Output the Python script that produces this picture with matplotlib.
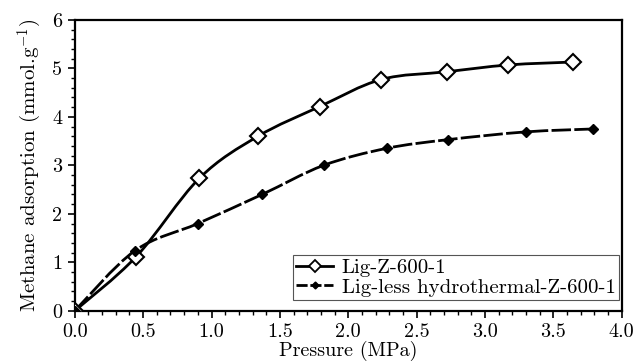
import numpy as np
import matplotlib.pyplot as plt
from matplotlib.path import Path
from matplotlib.patches import PathPatch
from matplotlib.lines import Line2D
from matplotlib.ticker import MultipleLocator

plt.rcParams['font.family'] = ['cmr10']
plt.rcParams['mathtext.fontset'] = 'cm'
plt.rcParams['axes.formatter.use_mathtext'] = True

# Lig-Z-600-1
p_lig = [0.0, 0.45, 0.91, 1.34, 1.79, 2.24, 2.72, 3.17, 3.64]
q_lig = [0.0, 1.12, 2.73, 3.60, 4.21, 4.77, 4.93, 5.07, 5.13]
# Lig-less hydrothermal-Z-600-1
p_less = [0.0, 0.44, 0.90, 1.37, 1.82, 2.28, 2.73, 3.30, 3.79]
q_less = [0.0, 1.24, 1.80, 2.40, 3.00, 3.35, 3.53, 3.69, 3.75]

labels = ['Lig-Z-600-1', 'Lig-less hydrothermal-Z-600-1']


def smooth_path(x, y):
    # Excel-like smoothed line: cubic Bezier through points (Catmull-Rom)
    x = np.asarray(x, float)
    y = np.asarray(y, float)
    n = len(x)
    verts = [(x[0], y[0])]
    codes = [Path.MOVETO]
    for i in range(n - 1):
        i0 = max(i - 1, 0)
        i3 = min(i + 2, n - 1)
        c1 = (x[i] + (x[i + 1] - x[i0]) / 6, y[i] + (y[i + 1] - y[i0]) / 6)
        c2 = (x[i + 1] - (x[i3] - x[i]) / 6, y[i + 1] - (y[i3] - y[i]) / 6)
        verts += [c1, c2, (x[i + 1], y[i + 1])]
        codes += [Path.CURVE4] * 3
    return Path(verts, codes)


fig = plt.figure(figsize=(6.39, 3.61), dpi=100)
ax = fig.add_axes([0.117, 0.139, 0.856, 0.806])

ax.add_patch(PathPatch(smooth_path(p_lig, q_lig), fill=False, lw=2.0,
                       color='black', zorder=2))
ax.add_patch(PathPatch(smooth_path(p_less, q_less), fill=False, lw=2.0,
                       color='black', linestyle=(0, (7, 1.2)), zorder=2))
ax.plot(p_lig, q_lig, linestyle='none', marker='D', ms=8, mfc='white',
        mec='black', mew=1.5, zorder=3)
ax.plot(p_less, q_less, linestyle='none', marker='D', ms=5.5, mfc='black',
        mec='black', zorder=3)

handles = [
    Line2D([], [], color='black', lw=2.0, marker='D', ms=6, mfc='white',
           mec='black', mew=1.3),
    Line2D([], [], color='black', lw=2.0, linestyle=(0, (4, 1.0)),
           marker='D', ms=3.5, mfc='black', mec='black'),
]
leg = ax.legend(handles, labels, loc='lower right',
                bbox_to_anchor=(0.9945, 0.038), fontsize=15,
                fancybox=False, framealpha=1, edgecolor='#555555',
                handlelength=1.8, borderaxespad=0, labelspacing=0.05,
                borderpad=0.15, handletextpad=0.4)
leg.get_frame().set_linewidth(0.8)

ax.set_xlim(0, 4)
ax.set_ylim(0, 6)
ax.xaxis.set_major_locator(MultipleLocator(0.5))
ax.xaxis.set_minor_locator(MultipleLocator(0.1))
ax.yaxis.set_major_locator(MultipleLocator(1))
ax.yaxis.set_minor_locator(MultipleLocator(0.2))
ax.xaxis.set_major_formatter(plt.FuncFormatter(lambda v, _: f'{v:.1f}'))
ax.yaxis.set_major_formatter(plt.FuncFormatter(lambda v, _: f'{v:.0f}'))
ax.tick_params(which='major', direction='out', length=5, width=1.2,
               labelsize=14.5, pad=4, top=False, right=False)
ax.tick_params(which='minor', direction='out', length=3, width=1,
               top=False, right=False)
for s in ax.spines.values():
    s.set_linewidth(1.6)

ax.set_xlabel('Pressure (MPa)', fontsize=14.5, labelpad=0)
ax.set_ylabel(r'Methane adsorption (mmol.g$^{-1}$)', fontsize=15, labelpad=6)

fig.savefig('out.png', dpi=100)
